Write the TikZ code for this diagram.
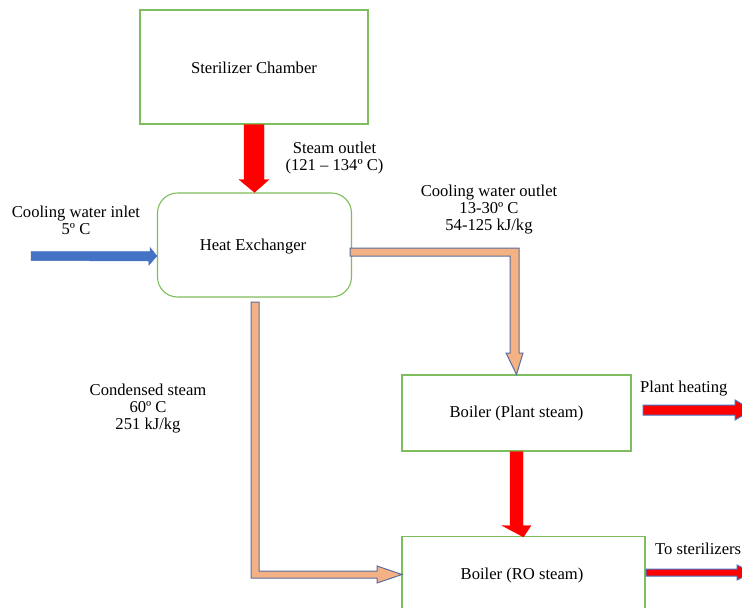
\documentclass[tikz,border=0pt]{standalone}
\usepackage{fontspec}
\setmainfont{Liberation Serif}
\usetikzlibrary{calc}
\definecolor{boxgreen}{HTML}{7EBE5C}
\definecolor{peach}{HTML}{F4B183}
\definecolor{slateb}{HTML}{5B6E9E}
\definecolor{inblue}{HTML}{4472C4}
\definecolor{hotred}{HTML}{FF0000}
\tikzset{
  box/.style={draw=boxgreen, line width=1.1pt, fill=white, inner sep=0pt},
  lbl/.style={align=center, inner sep=0pt, font=\fontsize{16.6}{17}\selectfont},
  redarrow/.style={fill=hotred, draw=hotred, line width=0.3pt},
  bluearrow/.style={fill=inblue, draw=inblue, line width=0.5pt},
  warmarrow/.style={fill=peach, draw=slateb, line width=1pt, line join=miter},
  outarrow/.style={fill=hotred, draw=inblue, line width=1pt, line join=miter}
}
\begin{document}
\begin{tikzpicture}[x=1pt, y=-1pt]
\useasboundingbox (0,0) rectangle (742,608);
\clip (0,0) rectangle (742,608);
\fill[white] (0,0) rectangle (742,608);

% boxes
\node[box, minimum width=228pt, minimum height=114pt] (ster) at (254,67) {};
\node[lbl] (sterT) at (254,68) {Sterilizer Chamber};
\node[box, rounded corners=20pt, minimum width=194pt, minimum height=104pt] (he) at (254.5,245) {};
\node[lbl] (heT) at (253,246.5) {Heat Exchanger};
\node[box, minimum width=229pt, minimum height=76pt] (bp) at (516.5,413) {};
\node[lbl] (bpT) at (516.5,413.5) {Boiler (Plant steam)};
\node[box, minimum width=243pt, minimum height=80pt, anchor=north] (ro) at (523.5,536) {};
\node[lbl] (roT) at (522,576) {Boiler (RO steam)};

% steam outlet arrow (sterilizer -> heat exchanger)
\draw[redarrow] ($(ster.south)+(-10,0)$) -- ++(0,55) -- ++(-5,0) -- (he.north) -- ($(ster.south)+(15,55)$) -- ++(-5,0) -- ($(ster.south)+(10,0)$) -- cycle;

% plant boiler -> RO boiler
\draw[redarrow] ($(bp.south)+(-6.5,0)$) -- ++(0,74) -- ++(-8,0) -- ($(ro.north)+(0,1)$) -- ($(bp.south)+(14.5,74)$) -- ++(-8,0) -- ($(bp.south)+(6.5,0)$) -- cycle;

% cooling water inlet
\coordinate (inl) at (31,256);
\draw[bluearrow] ($(inl)+(0,-4.5)$) -- ++(119,0) -- ++(0,-4) -- ($(he.west)+(0,11)$) -- ++(-8,9) -- ++(0,-4) -- ($(inl)+(0,4.5)$) -- cycle;

% cooling water outlet (heat exchanger -> plant boiler)
\draw[warmarrow] ($(he.east)+(-2,3)$) -- (519,248) -- (519,353) -- (523,353) -- (bp.north) -- (506,353) -- (510,353) -- (510,256) -- ($(he.east)+(-2,11)$) -- cycle;

% condensed steam (heat exchanger -> RO boiler)
\draw[warmarrow] (251,302) -- (259,302) -- (259,571) -- (377,571) -- (377,566) -- (402,574.5) -- (377,583) -- (377,578) -- (251,578) -- cycle;

% outputs
\draw[outarrow] (643,405) -- (735,405) -- (735,400) -- (752,410) -- (735,420) -- (735,415) -- (643,415) -- cycle;
\draw[outarrow] (646,569) -- (737,569) -- (737,565) -- (752,572.5) -- (737,580) -- (737,576) -- (646,576) -- cycle;

% labels
\node[lbl] (l1) at (334.5,158) {Steam outlet\\(121 – 134º C)};
\node[lbl] (l2) at (76,220.5) {Cooling water inlet\\5º C};
\node[lbl] (l3) at (489,209.5) {Cooling water outlet\\13-30º C\\54-125 kJ/kg};
\node[lbl] (l4) at (148,408.5) {Condensed steam\\60º C\\251 kJ/kg};
\node[lbl, anchor=west] (l5) at (640,389) {Plant heating};
\node[lbl, anchor=west] (l6) at (655,549) {To sterilizers};
\end{tikzpicture}
\end{document}
